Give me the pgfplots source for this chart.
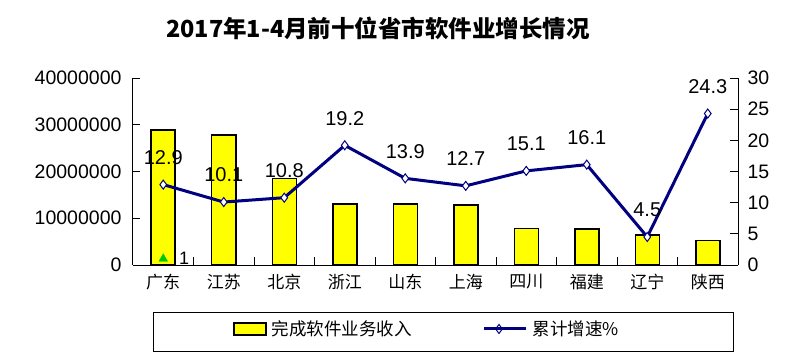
\documentclass[border=0pt]{standalone}
\usepackage{pgfplots}
\pgfplotsset{compat=1.18}
\usepackage{fontspec}
\setmainfont{Liberation Sans}
\newfontfamily\cjk{Noto Sans CJK SC}
\definecolor{barY}{RGB}{255,255,0}
\definecolor{lineNavy}{RGB}{0,0,128}
\definecolor{triG}{RGB}{0,200,0}
\pgfplotsset{
  mylinelegend/.style={legend image code/.code={\draw[##1, mark repeat=2, mark phase=2] plot coordinates {(0pt,0pt) (15pt,0pt) (30pt,0pt)};\path (0pt,0pt) -- (42pt,0pt);}},
  mybarlegend/.style={legend image code/.code={\draw[fill=barY, draw=black, line width=1.5pt] (0pt,-6pt) rectangle (32pt,6pt);}},
}
\begin{document}
\begin{tikzpicture}
\useasboundingbox (-133pt,-89pt) rectangle (664pt,265pt);
\begin{axis}[
  at={(0pt,0pt)}, anchor=south west,
  scale only axis, width=605pt, height=187pt,
  xmin=-0.5, xmax=9.5, ymin=0, ymax=40000000,
  axis x line*=bottom, axis y line*=left,
  axis line style={-, line width=1pt, black},
  tick align=inside,
  xtick={0,...,9},
  xticklabels={广东,江苏,北京,浙江,山东,上海,四川,福建,辽宁,陕西},
  xticklabel style={font=\cjk\fontsize{17}{20}\selectfont, yshift=-6pt},
  major x tick style={draw=none},
  minor xtick={0.5,1.5,...,8.5},
  minor tick length=8pt,
  minor x tick style={line width=0.8pt, black},
  ytick={0,10000000,20000000,30000000,40000000},
  major tick length=7pt,
  ytick style={line width=0.8pt, black},
  scaled y ticks=false,
  yticklabel style={/pgf/number format/fixed, /pgf/number format/1000 sep={}, /pgf/number format/assume math mode=true, font=\fontsize{19.5}{22}\selectfont, xshift=-8pt},
  clip=false,
]
\addplot[ybar, bar width=24pt, fill=barY, draw=black, line width=1.5pt] coordinates {
  (0,28900000) (1,27800000) (2,18500000) (3,13100000) (4,13000000)
  (5,12800000) (6,7850000) (7,7650000) (8,6400000) (9,5200000)
};
\end{axis}
\begin{axis}[
  at={(0pt,0pt)}, anchor=south west,
  scale only axis, width=605pt, height=187pt,
  xmin=-0.5, xmax=9.5, ymin=0, ymax=30,
  axis x line=none, axis y line*=right,
  axis line style={-, line width=1pt, black},
  tick align=inside,
  ytick={0,5,...,30},
  major tick length=8pt,
  ytick style={line width=0.8pt, black},
  yticklabel style={/pgf/number format/assume math mode=true, font=\fontsize{19.5}{22}\selectfont, xshift=6pt},
  clip=false,
  legend columns=2,
  legend style={draw=none, fill=none, at={(rel axis cs:0.165,-0.342)}, anchor=west, inner sep=0pt,
    font=\cjk\fontsize{17.5}{20}\selectfont,
    nodes={inner xsep=5pt},
    /tikz/every even column/.append style={column sep=66pt}},
]
\addlegendimage{mybarlegend}
\addlegendentry{完成软件业务收入}
\addplot[color=lineNavy, line width=3pt, mark=diamond*, mark size=4.5pt,
  mark options={fill=white, draw=lineNavy, line width=1pt},
  nodes near coords={\pgfmathprintnumber[fixed,precision=1,fixed zerofill,assume math mode=true]{\pgfplotspointmeta}},
  every node near coord/.append style={anchor=center, yshift=27pt, text=black, font=\fontsize{20}{22}\selectfont},
  mylinelegend
] coordinates {
  (0,12.9) (1,10.1) (2,10.8) (3,19.2) (4,13.9) (5,12.7) (6,15.1) (7,16.1) (8,4.5) (9,24.3)
};
\addlegendentry{累计增速\%}
\addplot[forget plot, only marks, mark=triangle*, mark size=5pt, color=triG,
  nodes near coords={1},
  every node near coord/.append style={anchor=center, xshift=21pt, yshift=0pt, text=black, font=\fontsize{18}{20}\selectfont}
] coordinates {(0,1)};
\draw[line width=0.8pt] (rel axis cs:0.033,-0.251) rectangle (rel axis cs:0.992,-0.460);
\node[font=\cjk\bfseries\fontsize{23.5}{27}\selectfont, anchor=center] at (rel axis cs:0.405,1.267) {2017年1-4月前十位省市软件业增长情况};
\end{axis}
\end{tikzpicture}
\end{document}
